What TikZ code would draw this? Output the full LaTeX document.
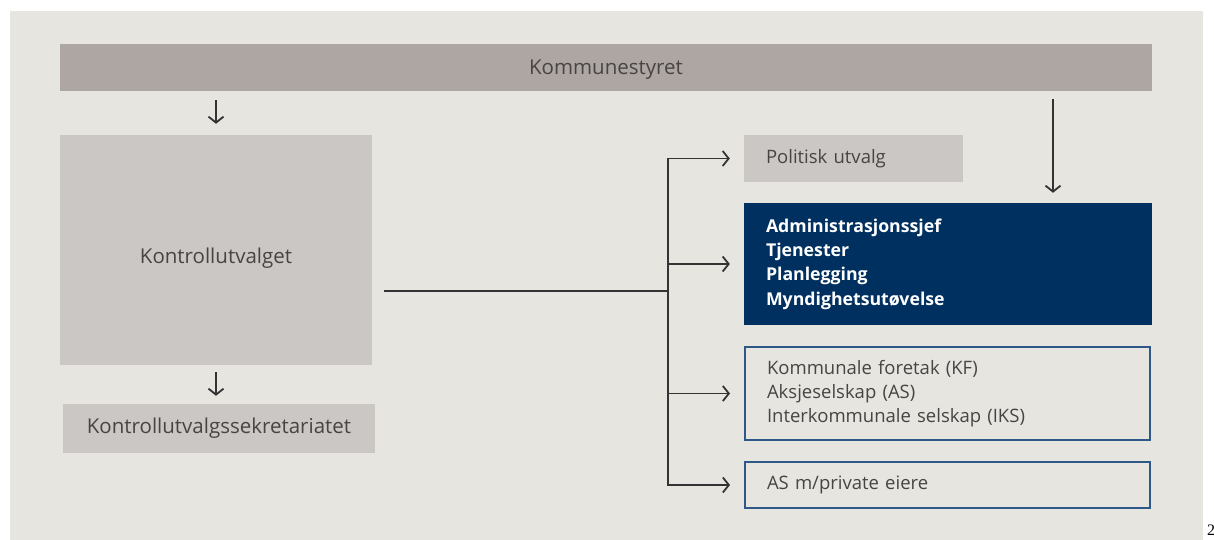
\documentclass[tikz,border=0pt]{standalone}
\usepackage{fontspec}
\setmainfont{Open Sans}
\newfontfamily\pagenofont{Liberation Serif}
\usetikzlibrary{arrows.meta, positioning}
\definecolor{bggray}{HTML}{E6E5E0}
\definecolor{bargray}{HTML}{AEA6A3}
\definecolor{boxgray}{HTML}{CBC7C4}
\definecolor{navy}{HTML}{00305F}
\definecolor{frameblue}{HTML}{2D5887}
\definecolor{textgray}{HTML}{484444}
\definecolor{linegray}{HTML}{333333}
\tikzset{
  box/.style={inner sep=0pt, text=textgray, font=\fontsize{18.5}{24}\selectfont},
  graybox/.style={box, fill=boxgray, font=\fontsize{20.5}{24}\selectfont},
  listbox/.style={box, align=left, inner xsep=22pt, text width=#1},
  link/.style={draw=linegray, line width=1.8pt},
  arr/.style={link, -{Straight Barb[length=6pt,width=15pt]}},
}

\begin{document}
\begin{tikzpicture}[x=1pt,y=-1pt]
\useasboundingbox (0,0) rectangle (1214,540);
\fill[white] (0,0) rectangle (1214,540);
\fill[bggray] (10,11) rectangle (1203,540);

\node[graybox, fill=bargray, minimum width=1092, minimum height=47] (kommunestyret) at (606,67.5) {\raisebox{-7.5pt}[0pt][0pt]{Kommunestyret}};
\node[graybox, minimum width=312, minimum height=230] (kontroll) at (216,250) {\raisebox{-13pt}[0pt][0pt]{Kontrollutvalget}};
\node[graybox, minimum width=312, minimum height=49] (sekretariat) at (219,428.5) {Kontrollutvalgssekretariatet};

\node[listbox=175, fill=boxgray, minimum height=47] (politisk) at (853.5,158.5) {Politisk utvalg};
\node[listbox=364, fill=navy, text=white, font=\fontsize{17.7}{24.3}\selectfont\bfseries, minimum height=122] (admin) at (948,264) {Administrasjonssjef\\Tjenester\\Planlegging\\Myndighetsutøvelse};
\node[listbox=361, draw=frameblue, line width=2pt, minimum height=93] (selskap) at (947.5,393.5) {Kommunale foretak (KF)\\Aksjeselskap (AS)\\Interkommunale selskap (IKS)};
\node[listbox=361, draw=frameblue, line width=2pt, minimum height=46] (privat) at (947.5,485) {AS m/private eiere};

\coordinate (split) at (668,291);
\coordinate (adminin) at ([xshift=105]admin.north);

\draw[arr, shorten <=9pt, shorten >=11pt] (kommunestyret.south -| kontroll) -- (kontroll);
\draw[arr, shorten <=7pt, shorten >=8pt] (kontroll.south) -- (kontroll.south |- sekretariat.north);
\draw[arr, shorten <=8pt, shorten >=10pt] (kommunestyret.south -| adminin) -- (adminin);

\draw[link, shorten <=12pt] (kontroll.east |- split) -- (split);
\draw[arr, shorten >=14pt] (split) |- (politisk.west);
\draw[arr, shorten >=14pt] (split) |- (admin.west);
\draw[arr, shorten >=14pt] (split) |- (selskap.west);
\draw[arr, shorten >=14pt] (split) |- (privat.west);

\node[font=\pagenofont\fontsize{16}{16}\selectfont, inner sep=0pt] (pageno) at (1211,530) {2};
\end{tikzpicture}
\end{document}
